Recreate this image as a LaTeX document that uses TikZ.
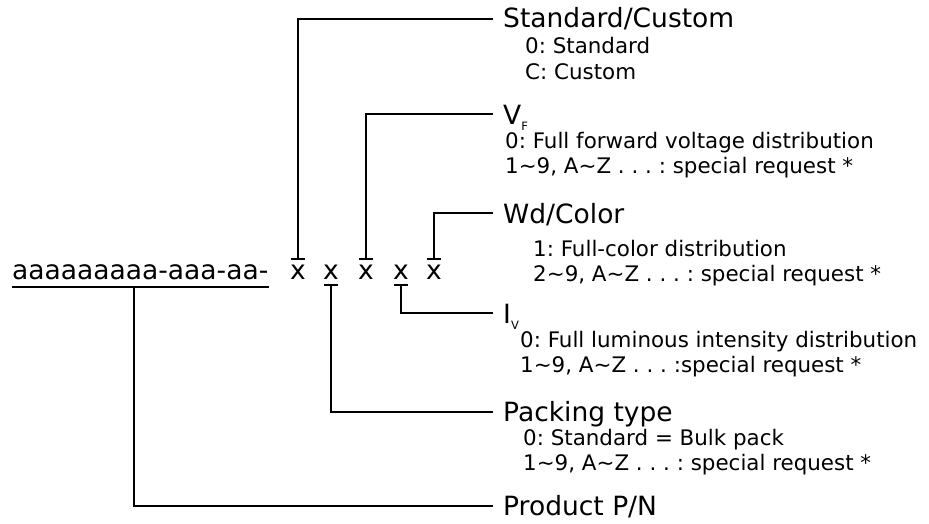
\documentclass[tikz,border=0pt]{standalone}
\usepackage{fontspec}
\setmainfont{DejaVu Sans}
\usetikzlibrary{calc}
\frenchspacing
\tikzset{
  conn/.style={line width=2pt, line cap=butt},
  hdr/.style={anchor=base west, inner sep=0pt, font=\fontsize{26.5}{30}\selectfont},
  sub/.style={anchor=base west, inner sep=0pt, font=\fontsize{21.4}{25}\selectfont},
  xch/.style={anchor=base, inner sep=0pt, font=\fontsize{26.5}{30}\selectfont},
  bar/.style={line width=2pt}
}
\newcommand{\lowsub}[1]{\raisebox{-6pt}{\fontsize{11.5}{12}\selectfont #1}}
\begin{document}
\begin{tikzpicture}[x=1pt,y=-1pt]
\useasboundingbox (0,0) rectangle (929,523);
% part number
\node[hdr] (pn) at (12,279) {aaaaaaaaa-aaa-aa-};
\draw[bar] (12,286.5) coordinate (ul1) -- (269,286.5) coordinate (ul2);
\node[xch] (x1) at (298,279) {x};
\node[xch] (x2) at (331,279) {x};
\node[xch] (x3) at (366,279) {x};
\node[xch] (x4) at (401,279) {x};
\node[xch] (x5) at (434,279) {x};
% bars
\coordinate (b1) at (298,259);
\coordinate (b3) at (366,259);
\coordinate (b5) at (434,259);
\coordinate (b2) at (331,285);
\coordinate (b4) at (401,285);
\coordinate (b0) at (134,286.5);
\foreach \b in {b1,b3,b5,b2,b4}{
  \draw[bar] ($(\b)+(-7,0)$) -- ($(\b)+(7,0)$);
}
% headers
\node[hdr] (h1) at (503,27) {Standard/Custom};
\node[sub] (s1a) at (525,53) {0: Standard};
\node[sub] (s1b) at (525,79) {C: Custom};

\node[hdr] (h2) at (503,124) {V\lowsub{F}};
\node[sub] (s2a) at (505,148) {0: Full forward voltage distribution};
\node[sub] (s2b) at (505,173) {1\textasciitilde9, A\textasciitilde Z . . . : special request *};

\node[hdr] (h3) at (503,223) {Wd/Color};
\node[sub] (s3a) at (533,256) {1: Full-color distribution};
\node[sub] (s3b) at (533,281) {2\textasciitilde9, A\textasciitilde Z . . . : special request *};

\node[hdr] (h4) at (503,323) {I\lowsub{V}};
\node[sub] (s4a) at (520,347) {0: Full luminous intensity distribution};
\node[sub] (s4b) at (520,372) {1\textasciitilde9, A\textasciitilde Z . . . :special request *};

\node[hdr] (h5) at (503,421) {Packing type};
\node[sub] (s5a) at (523,445) {0: Standard = Bulk pack};
\node[sub] (s5b) at (523,470) {1\textasciitilde9, A\textasciitilde Z . . . : special request *};

\node[hdr] (h6) at (503,515) {Product P/N};

% connector ends
\coordinate (e1) at (493,19);
\coordinate (e2) at (493,114);
\coordinate (e3) at (493,213);
\coordinate (e4) at (493,313);
\coordinate (e5) at (493,412);
\coordinate (e6) at (493,506);
\draw[conn] (b1) |- (e1);
\draw[conn] (b3) |- (e2);
\draw[conn] (b5) |- (e3);
\draw[conn] (b4) |- (e4);
\draw[conn] (b2) |- (e5);
\draw[conn] (b0) |- (e6);
\end{tikzpicture}
\end{document}
